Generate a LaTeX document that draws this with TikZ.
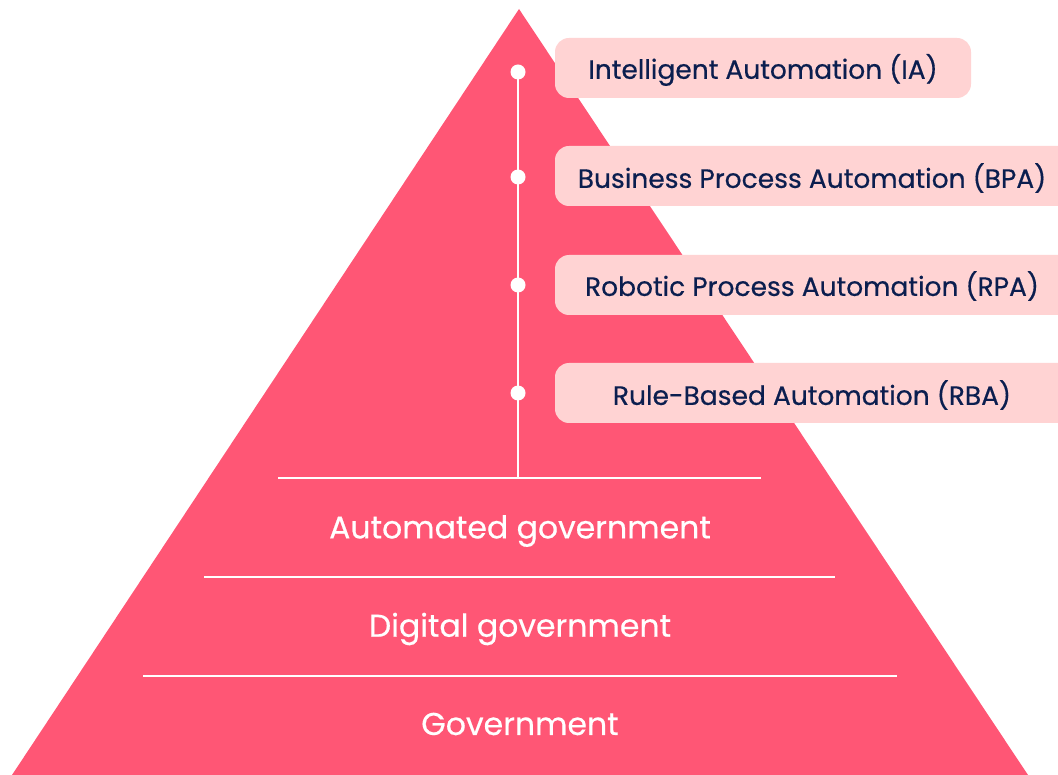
\documentclass[tikz,border=0pt]{standalone}
\usepackage{fontspec}
\setmainfont{Poppins}
\newfontfamily\medfont{Poppins}[FakeBold=0.45]
\definecolor{pyr}{HTML}{FF5675}
\definecolor{boxc}{HTML}{FFD3D3}
\definecolor{navy}{HTML}{0B1E4F}
\begin{document}
\begin{tikzpicture}[x=1pt,y=-1pt,
  lbltext/.style={text=navy,font=\medfont\fontsize{26.5}{30}\selectfont,inner sep=0pt},
  lblbox/.style={fill=boxc,rounded corners=14pt},
  tier/.style={text=white,font=\medfont\fontsize{31.5}{36}\selectfont,inner sep=0pt},
  sep/.style={draw=white,line width=2pt},
  dotc/.style={circle,fill=white,inner sep=0pt,minimum size=15pt}]
\useasboundingbox (0,0) rectangle (1058,775);
\coordinate (apex) at (519,9);
\coordinate (bl) at (12,775);
\coordinate (br) at (1028,775);
\fill[pyr] (apex) -- (bl) -- (br) -- cycle;
% separators
\coordinate (s1l) at (278,478); \coordinate (s1r) at (761,478);
\coordinate (s2l) at (204,577); \coordinate (s2r) at (835,577);
\coordinate (s3l) at (143,676); \coordinate (s3r) at (897,676);
\draw[sep] (s1l) -- (s1r);
\draw[sep] (s2l) -- (s2r);
\draw[sep] (s3l) -- (s3r);
% tiers
\node[tier] (t1) at (520,531) {Automated government};
\node[tier] (t2) at (520,629) {Digital government};
\node[tier] (t3) at (520,724) {Government};
% boxes
\path[lblbox] (555,38) rectangle (971,98);
\path[lblbox] (555,146) rectangle (1072,206);
\path[lblbox] (555,255) rectangle (1072,315);
\path[lblbox] (555,363) rectangle (1072,423);
\node[lbltext] (ia) at (763,70) {Intelligent Automation (IA)};
\node[lbltext] (bpa) at (812,178) {Business Process Automation (BPA)};
\node[lbltext] (rpa) at (812,286) {Robotic Process Automation (RPA)};
\node[lbltext] (rba) at (812,395) {Rule-Based Automation (RBA)};
% vertical line and dots
\coordinate (vtop) at (518,72);
\coordinate (vbot) at (518,478);
\draw[sep] (vtop) -- (vbot);
\node[dotc] (d1) at (518,72) {};
\node[dotc] (d2) at (518,177) {};
\node[dotc] (d3) at (518,285) {};
\node[dotc] (d4) at (518,393) {};
\end{tikzpicture}
\end{document}
